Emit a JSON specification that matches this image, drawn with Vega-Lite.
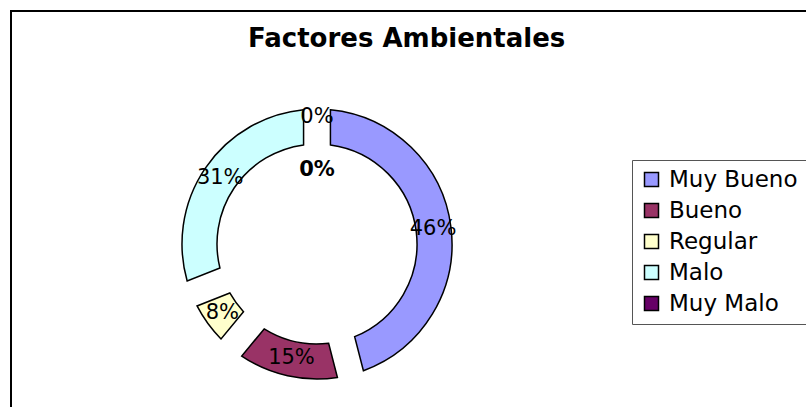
{
  "$schema": "https://vega.github.io/schema/vega-lite/v6.json",
  "width": 805,
  "height": 405,
  "autosize": {"type": "none"},
  "padding": {"left": 11, "top": 11, "right": -10, "bottom": -9},
  "background": "white",
  "view": {"stroke": "black", "strokeWidth": 2, "fill": "white"},
  "title": {
    "text": "Factores Ambientales",
    "font": "DejaVu Sans",
    "fontSize": 26,
    "fontWeight": "bold",
    "color": "black",
    "anchor": "start",
    "dx": 237,
    "offset": -41
  },
  "data": {
    "values": [
      {"categoria": "Muy Bueno", "porcentaje": 46, "etiqueta": "46%", "orden": 1},
      {"categoria": "Bueno", "porcentaje": 15, "etiqueta": "15%", "orden": 2},
      {"categoria": "Regular", "porcentaje": 8, "etiqueta": "8%", "orden": 3},
      {"categoria": "Malo", "porcentaje": 31, "etiqueta": "31%", "orden": 4},
      {"categoria": "Muy Malo", "porcentaje": 0, "etiqueta": "0%", "orden": 5}
    ]
  },
  "encoding": {
    "theta": {"field": "porcentaje", "type": "quantitative", "stack": true},
    "order": {"field": "orden", "type": "quantitative"},
    "detail": {"field": "categoria", "type": "nominal"}
  },
  "layer": [
    {
      "transform": [{"filter": "datum.porcentaje > 0"}],
      "mark": {"type": "arc", "x": 306, "y": 233, "outerRadius": 135, "innerRadius": 100, "padAngle": 0.16, "stroke": "black", "strokeWidth": 1.5},
      "encoding": {
        "color": {
          "field": "categoria",
          "type": "nominal",
          "scale": {
            "domain": ["Muy Bueno", "Bueno", "Regular", "Malo", "Muy Malo"],
            "range": ["#9999FF", "#993366", "#FFFFCC", "#CCFFFF", "#660066"]
          },
          "legend": {
            "title": null,
            "orient": "none",
            "legendX": 621,
            "legendY": 149,
            "symbolType": "square",
            "symbolSize": 196,
            "symbolStrokeColor": "black",
            "symbolStrokeWidth": 1.5,
            "labelFont": "DejaVu Sans",
            "labelFontSize": 23,
            "labelColor": "black",
            "labelOffset": 6,
            "rowPadding": 7,
            "padding": 8,
            "strokeColor": "#555555"
          }
        }
      }
    },
    {
      "mark": {"type": "text", "x": 306, "y": 233, "radius": 117, "font": "DejaVu Sans", "fontSize": 21, "color": "black"},
      "encoding": {
        "text": {"field": "etiqueta", "type": "nominal"},
        "opacity": {"condition": {"test": "datum.categoria !== 'Muy Malo'", "value": 1}, "value": 0}
      }
    },
    {
      "mark": {"type": "text", "x": 306, "y": 233, "radius": 127, "font": "DejaVu Sans", "fontSize": 21, "color": "black"},
      "encoding": {
        "text": {"field": "etiqueta", "type": "nominal"},
        "opacity": {"condition": {"test": "datum.categoria === 'Muy Malo'", "value": 1}, "value": 0}
      }
    },
    {
      "mark": {"type": "text", "x": 306, "y": 233, "radius": 74, "font": "DejaVu Sans", "fontSize": 21, "fontWeight": "bold", "color": "black"},
      "encoding": {
        "text": {"field": "etiqueta", "type": "nominal"},
        "opacity": {"condition": {"test": "datum.categoria === 'Muy Malo'", "value": 1}, "value": 0}
      }
    }
  ],
  "config": {
    "view": {"stroke": "black", "strokeWidth": 2}
  }
}
